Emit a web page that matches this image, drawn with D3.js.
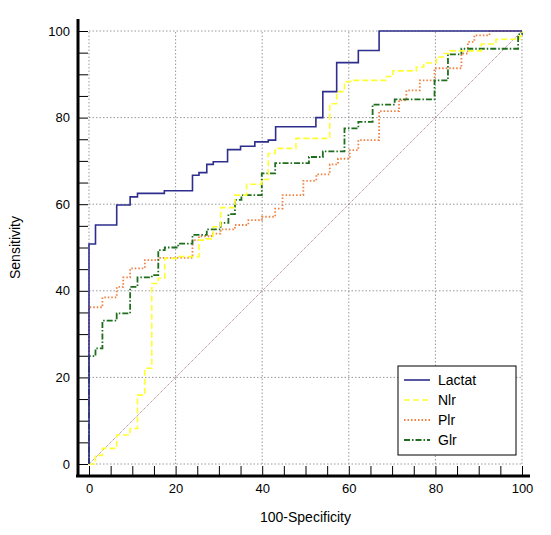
<!DOCTYPE html>
<html><head><meta charset="utf-8">
<script src="https://cdn.jsdelivr.net/npm/d3@7"></script>
<style>body{margin:0;background:#fff}</style></head>
<body><svg id="c" width="551" height="535"></svg>
<script>
const seriesNames = ["Lactat","Nlr","Plr","Glr"];
const lactat = [[0,0],[0,50.8],[1.5,55.2],[6.4,59.8],[9.5,61.7],[11.2,62.5],[17.4,63.1],[23.9,66.7],[25.4,67.3],[27.2,69.2],[28.7,69.8],[32,72.6],[35,73.4],[38.3,74.4],[41.4,74.8],[43.1,77.9],[52.4,80],[54,86],[57.2,92.7],[62.2,95.5],[67,100],[100,100]];
const nlr = [[0,0],[1.5,2],[3.1,3.6],[6.4,6.7],[9.5,8.2],[11.2,15.9],[12.9,22.1],[14.5,41.7],[16,42.9],[17.5,47.5],[20.6,47.9],[25.4,51.7],[27,52],[28.7,54.8],[30.4,59.2],[33.7,62.1],[36.4,64.6],[39.9,65.7],[41.4,71.7],[43,72.9],[47.8,75.2],[55.6,83.2],[57.2,86],[59,88.3],[60.4,88.6],[68.7,89.5],[70.2,90.8],[75.6,91.7],[77.3,92.6],[80.2,94],[81.8,94.8],[83.4,95.4],[90.6,97],[94,98.1],[99.5,98.9],[100,100]];
const plr = [[0,0],[0,36.2],[3.1,38.5],[6.4,40.9],[7.9,43.1],[9.5,45.2],[12.9,47.1],[16,47.6],[23.9,51.7],[25.4,52.6],[28.3,53.2],[30.4,54.2],[33.7,55.2],[36.8,56.3],[39.9,57.1],[43,59],[44.7,62.1],[49.5,65.4],[52.5,66.9],[55.6,69.2],[57.5,70.5],[60.2,72.5],[62.2,74.8],[67,81.5],[71.6,84],[73.3,86.3],[76.4,88.6],[79.8,91.4],[86,94.8],[87.5,97.5],[89,99],[92.5,100],[100,100]];
const glr = [[0,0],[0,24.9],[1.5,26.7],[3.1,33.1],[6.4,34.8],[9.5,40.9],[11.2,43.1],[14.5,43.6],[16,49.4],[17.5,50],[20.6,50.9],[23.9,52.9],[27.2,54.2],[30.4,55.7],[32.2,57.7],[33.7,61],[35.2,62.1],[39.9,67.1],[43,69.5],[50.8,70.9],[54,72.2],[59,77.5],[62.2,79],[65.5,83],[70.6,84.2],[79.8,88.6],[82.9,94.6],[86,95.9],[99.1,99.2],[100,100]];
const ticks = [0,20,40,60,80,100];

const svg = d3.select("#c");
const x = d3.scaleLinear().domain([0,100]).range([89,522]);
const y = d3.scaleLinear().domain([0,100]).range([464,31]);
const g = svg.append("g");
g.selectAll(".gx").data(ticks).join("line").attr("x1",d=>x(d)).attr("x2",d=>x(d)).attr("y1",y(0)).attr("y2",y(100)).attr("stroke","#999").attr("stroke-dasharray","1.5,2");
g.selectAll(".gy").data(ticks).join("line").attr("y1",d=>y(d)).attr("y2",d=>y(d)).attr("x1",x(0)).attr("x2",x(100)).attr("stroke","#999").attr("stroke-dasharray","1.5,2");
const yAx = d3.axisLeft(y).tickValues(d3.range(0,101,5)).tickSize(-10).tickFormat(d=>d%20===0?d:"");
const xAx = d3.axisBottom(x).tickValues(d3.range(0,101,5)).tickSize(-10).tickFormat(d=>d%20===0?d:"");
const ya = svg.append("g").attr("transform","translate(78,0)").call(yAx);
ya.select(".domain").attr("d",`M0,${y(100)-12}V477`).attr("stroke","#000").attr("stroke-width",3);
ya.selectAll(".tick line").attr("stroke","#000");
ya.selectAll(".tick text").attr("x",-8).attr("font-size",13).attr("font-family","Arial, Liberation Sans");
const xa = svg.append("g").attr("transform","translate(0,476)").call(xAx);
xa.select(".domain").attr("d",`M76,0H${x(100)+8}`).attr("stroke","#000").attr("stroke-width",3);
xa.selectAll(".tick line").attr("stroke","#000");
xa.selectAll(".tick text").attr("y",8).attr("font-size",13).attr("font-family","Arial, Liberation Sans");
svg.append("text").attr("x",x(50)).attr("y",522).attr("text-anchor","middle").attr("font-size",14).attr("font-family","Arial, Liberation Sans").text("100-Specificity");
svg.append("text").attr("transform",`translate(20,${y(50)}) rotate(-90)`).attr("text-anchor","middle").attr("font-size",14).attr("font-family","Arial, Liberation Sans").text("Sensitivity");
g.append("line").attr("x1",x(0)).attr("y1",y(0)).attr("x2",x(100)).attr("y2",y(100)).attr("stroke","#8a3a50").attr("stroke-width",0.7).attr("stroke-dasharray","1,1");
const line = d3.line().x(d=>x(d[0])).y(d=>y(d[1])).curve(d3.curveStepAfter);
const styles = [
 {data:lactat,color:"#2e2e8e",dash:null,w:1.6},
 {data:nlr,color:"#ffff30",dash:"6,3",w:1.6},
 {data:plr,color:"#f08040",dash:"1.5,2",w:1.8},
 {data:glr,color:"#1e6e1e",dash:"6,2,1.5,2",w:1.8}
];
[2,3,1,0].forEach(i=>{const s=styles[i];
 g.append("path").attr("d",line(s.data)).attr("fill","none").attr("stroke",s.color).attr("stroke-width",s.w).attr("stroke-dasharray",s.dash);});
const lg = svg.append("g").attr("transform","translate(398,366)");
lg.append("rect").attr("width",118).attr("height",89).attr("fill","#fff").attr("stroke","#000");
seriesNames.forEach((n,i)=>{const s=styles[i];const yy=14+i*20;
 lg.append("line").attr("x1",6).attr("x2",32).attr("y1",yy).attr("y2",yy).attr("stroke",s.color).attr("stroke-width",s.w).attr("stroke-dasharray",s.dash);
 lg.append("text").attr("x",40).attr("y",yy+5).attr("font-size",14).attr("font-family","Arial, Liberation Sans").text(n);});
</script></body></html>
